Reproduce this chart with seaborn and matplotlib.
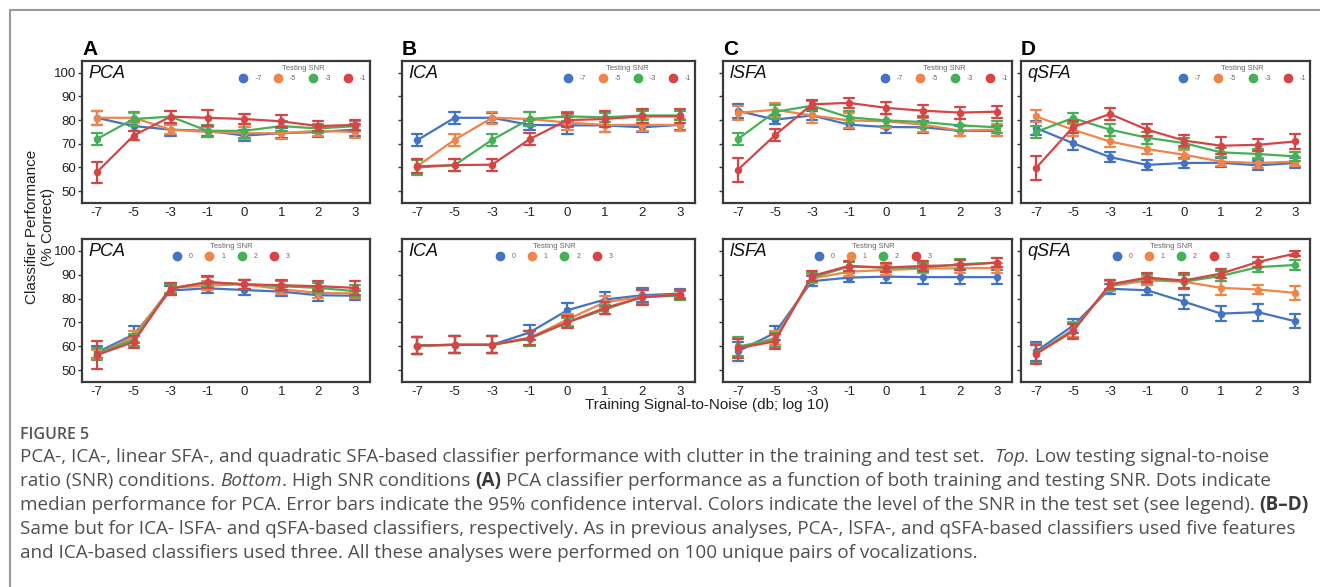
import matplotlib
matplotlib.use("Agg")
import matplotlib.pyplot as plt
from matplotlib.lines import Line2D
import numpy as np
import pandas as pd
import seaborn as sns

# ---------------- data ----------------
train_snr = ["-7", "-5", "-3", "-1", "0", "1", "2", "3"]
test_low = ["-7", "-5", "-3", "-1"]
test_high = ["0", "1", "2", "3"]
methods = ["PCA", "ICA", "lSFA", "qSFA"]
panel_letters = ["A", "B", "C", "D"]

# medians: one row per testing SNR (blue, orange, green, red)
pca_low = [[81, 77.5, 76, 75.5, 73.5, 74.5, 75, 76],
           [81, 81, 76, 75, 74.5, 74.5, 75.5, 75],
           [72, 80.5, 81.5, 75.5, 75.5, 77.5, 76.5, 77.5],
           [58, 73.5, 81.5, 81, 80.5, 79.5, 77.5, 78]]
pca_low_err = [[3, 2, 2.5, 2, 2.5, 2, 2, 2.5],
               [3, 2, 2, 2, 2.5, 2.5, 2, 2.5],
               [2.5, 3, 2.5, 2.5, 3, 2, 2, 2],
               [4.5, 2, 2.5, 3.5, 2, 2.5, 2, 2]]
ica_low = [[71.5, 81, 81, 78, 77.8, 77.8, 77, 78],
           [60.5, 71.7, 81, 80.5, 79, 78, 78, 78],
           [60, 61, 71.7, 80.5, 81.6, 81.2, 82, 82],
           [60.5, 61, 61.2, 72, 80, 80.5, 81.6, 81.6]]
ica_low_err = [[2.5, 2.5, 2, 2, 3.5, 3, 2, 2],
               [3, 2.5, 2.5, 3, 3, 3, 2.5, 2.5],
               [3, 2.5, 2.5, 3, 2, 2, 2, 2],
               [3, 2.5, 2.5, 2.5, 3, 3.5, 3, 3]]
lsfa_low = [[84, 80.2, 82, 78.1, 77.1, 77, 75.5, 75.5],
            [83.1, 84.4, 82, 79.9, 79.5, 78.1, 75.6, 76],
            [72, 83.5, 86.1, 81.2, 79.9, 79.2, 77.8, 77],
            [59, 73.6, 86.7, 87.3, 85.2, 84, 83.2, 83.6]]
lsfa_low_err = [[3, 2, 2, 2, 2.5, 2.5, 2, 2],
                [3, 3, 3, 3, 3, 3, 2.5, 2.5],
                [2.5, 3, 2, 2.5, 2.5, 2.5, 2.5, 2.5],
                [5, 2.5, 2, 2, 2.5, 2.5, 2.5, 2.5]]
qsfa_low = [[76.7, 70.3, 64.4, 61.1, 61.9, 62, 60.9, 61.9],
            [81.6, 76, 71, 67.8, 65.4, 62.5, 61.9, 62.5],
            [75, 80.9, 76, 72.6, 70.3, 66.4, 65.7, 64.7],
            [59.7, 77, 82.6, 76, 71.4, 69.2, 69.6, 71]]
qsfa_low_err = [[3, 3, 2, 2, 2, 2, 2, 2],
                [2.5, 2.5, 2.5, 2, 2, 2, 2, 2],
                [2.5, 2, 2.5, 2.5, 2, 2, 2, 2],
                [5, 2.5, 2.5, 2.5, 2.5, 3.5, 2.5, 3]]

pca_high = [[57.4, 64.9, 83.4, 84.3, 83.6, 82.9, 81.4, 81.2],
            [56.5, 64.1, 84.5, 85.5, 86, 83.9, 82.4, 82.2],
            [56.8, 62.8, 84.2, 86.9, 86, 85.2, 84.5, 83.1],
            [56.3, 61.8, 84.2, 86.9, 86, 85.6, 85.2, 84.5]]
pca_high_err = [[2.5, 3.5, 2, 2, 2, 2, 2.5, 2],
                [2, 2.5, 2, 2, 2, 2, 2, 2],
                [2.5, 2.5, 2, 2, 2, 2, 2, 2.5],
                [6, 2.5, 2.5, 2.5, 2, 2, 2, 3]]
ica_high = [[60.3, 60.6, 60.6, 65.8, 75.1, 79.6, 81.4, 82.1],
            [60.3, 60.6, 60.6, 63.5, 71.2, 78.5, 80.7, 81.7],
            [60.3, 60.6, 60.6, 63.2, 70, 75.4, 80.7, 81.2],
            [60.3, 60.6, 60.6, 63.5, 70, 76.1, 80.5, 81.7]]
ica_high_err = [[3.5, 3.5, 3.5, 3, 3, 3, 3, 2],
                [3.5, 3.5, 3.5, 3, 2.5, 2.5, 3, 2],
                [3.5, 3.5, 3.5, 3, 2, 2, 3, 2],
                [3.5, 3.5, 3.5, 3, 2.5, 2.5, 3, 2]]
lsfa_high = [[57.8, 65.6, 87.3, 88.8, 89.2, 89, 89, 89],
             [59.2, 63.5, 88.4, 91.3, 92, 92.6, 92.7, 92.9],
             [59.9, 62.7, 88.8, 93.4, 93, 93, 94.4, 95.1],
             [59.2, 62, 89.5, 93.7, 93, 93.7, 94, 95.1]]
lsfa_high_err = [[4, 3, 2, 2, 2.5, 3, 3, 3],
                 [4, 3, 2, 2, 2, 2, 2, 2],
                 [4, 3, 2, 2, 2, 2, 2, 2],
                 [4, 3, 2, 2, 2, 2, 2, 2]]
qsfa_high = [[57.8, 68.6, 84.1, 83.5, 78.7, 73.7, 74.3, 70.5],
             [56.8, 67, 85.2, 87.6, 87.1, 84.5, 83.8, 82.4],
             [57, 66.6, 85.6, 88.5, 87.1, 89.5, 93.2, 94.1],
             [56.7, 66.2, 86, 88.8, 87.6, 90.5, 95.4, 98.9]]
qsfa_high_err = [[4, 3, 2, 2, 3, 3, 3.5, 3],
                 [4, 3, 2, 2, 3, 3, 2, 3],
                 [4, 3, 2, 2, 3, 2, 2, 2],
                 [4, 3, 2, 2, 3, 2, 2, 1]]

low_sets = [(pca_low, pca_low_err), (ica_low, ica_low_err),
            (lsfa_low, lsfa_low_err), (qsfa_low, qsfa_low_err)]
high_sets = [(pca_high, pca_high_err), (ica_high, ica_high_err),
             (lsfa_high, lsfa_high_err), (qsfa_high, qsfa_high_err)]

colors = ["#4472C4", "#EE854A", "#45B055", "#D64545"]

y_ticks = [50, 60, 70, 80, 90, 100]

# ---------------- styling ----------------
sns.set_style("ticks")
chart_font = ["Liberation Sans", "DejaVu Sans"]
plt.rcParams["font.family"] = chart_font
cap_font = ["Open Sans", "DejaVu Sans"]

W, H = 1320, 587
fig = plt.figure(figsize=(W / 100, H / 100), dpi=100)

lefts = [82, 402, 723, 1021]
widths = [288, 293, 289, 289]
row_top = [61, 239]
row_h = [142, 143]


def long_table(med, err, tests):
    rows = []
    for t, m_row, e_row in zip(tests, med, err):
        for x, m, e in zip(train_snr, m_row, e_row):
            for v in (m - e, m, m + e):
                rows.append((x, t, v))
    return pd.DataFrame(rows, columns=["train", "test", "perf"])


for r, (sets, tests) in enumerate([(low_sets, test_low), (high_sets, test_high)]):
    for c in range(4):
        med, err = sets[c]
        df = long_table(med, err, tests)
        ax = fig.add_axes([lefts[c] / W, 1 - (row_top[r] + row_h[r]) / H,
                           widths[c] / W, row_h[r] / H])
        sns.pointplot(data=df, x="train", y="perf", hue="test",
                      order=train_snr, hue_order=tests, palette=colors,
                      estimator="median", errorbar=("pi", 100),
                      capsize=0.28, markersize=4.2, linewidth=1.6,
                      err_kws={"linewidth": 1.6}, legend=False, ax=ax)
        ax.set_xlim(-0.4, 7.4)
        ax.set_ylim(45, 105)
        ax.set_yticks(y_ticks)
        ax.set_xlabel("")
        ax.set_ylabel("")
        if c != 0:
            ax.set_yticklabels([])
        ax.tick_params(axis="y", length=3, width=1, color="#333333", pad=1,
                       labelsize=9.5, labelcolor="#222222")
        ax.tick_params(axis="x", length=0, pad=3, labelsize=9.5,
                       labelcolor="#222222")
        for sp in ax.spines.values():
            sp.set_linewidth(1.6)
            sp.set_color("#3a3a3a")
        ax.text(0.022, 0.975, methods[c], transform=ax.transAxes,
                ha="left", va="top", fontsize=13, style="italic",
                color="#111111")
        if r == 0:
            ax.text(0.0, 1.015, panel_letters[c], transform=ax.transAxes,
                    ha="left", va="bottom", fontsize=15, weight="bold",
                    color="#000000")
        handles = [Line2D([], [], marker="o", ls="", color=col, markersize=6)
                   for col in colors]
        if r == 0:
            loc, anchor = "upper right", (0.99, 0.985)
        else:
            loc, anchor = "upper center", (0.52, 0.985)
        leg = ax.legend(handles, tests, loc=loc, bbox_to_anchor=anchor,
                        ncol=4, frameon=False, fontsize=5, title="Testing SNR",
                        title_fontsize=5.5, handlelength=1.0,
                        handletextpad=1.2, columnspacing=1.9,
                        borderaxespad=0.1, borderpad=0.1)
        leg.get_title().set_color("#666666")
        for t in leg.get_texts():
            t.set_color("#666666")

fig.text(40 / W, 1 - 227 / H, "Classifier Performance\n(% Correct)",
         rotation=90, ha="center", va="center", multialignment="center",
         fontsize=11, color="#222222", linespacing=1.1)
fig.text(707 / W, 1 - 405 / H, "Training Signal-to-Noise (db; log 10)",
         ha="center", va="center", fontsize=11, color="#222222")

# ---------------- frame lines ----------------
fig.add_artist(Line2D([10 / W, 1.0], [1 - 10 / H, 1 - 10 / H],
                      transform=fig.transFigure, color="#9a9a9a", lw=1.5))
fig.add_artist(Line2D([10 / W, 10 / W], [1 - 10 / H, 0.0],
                      transform=fig.transFigure, color="#9a9a9a", lw=1.5))

# ---------------- caption ----------------
renderer = fig.canvas.get_renderer()
cap_color = "#505050"
cap_bold_color = "#3a3a3a"

caption_lines = [
    [("PCA-, ICA-, linear SFA-, and quadratic SFA-based classifier performance with clutter in the training and test set.  ", "r"),
     ("Top.", "i"), (" Low testing signal-to-noise", "r")],
    [("ratio (SNR) conditions. ", "r"), ("Bottom", "i"), (". High SNR conditions ", "r"),
     ("(A)", "b"), (" PCA classifier performance as a function of both training and testing SNR. Dots indicate", "r")],
    [("median performance for PCA. Error bars indicate the 95% confidence interval. Colors indicate the level of the SNR in the test set (see legend). ", "r"),
     ("(B\u2013D)", "b")],
    [("Same but for ICA- lSFA- and qSFA-based classifiers, respectively. As in previous analyses, PCA-, lSFA-, and qSFA-based classifiers used five features", "r")],
    [("and ICA-based classifiers used three. All these analyses were performed on 100 unique pairs of vocalizations.", "r")],
]


def text_width(s, size, **kw):
    t = fig.text(0, 0, s, fontsize=size, family=cap_font, **kw)
    w = t.get_window_extent(renderer).width
    t.remove()
    return w


def draw_line(pieces, x_px, y_px, size):
    space_w = text_width("a a", size) - text_width("aa", size)
    x = x_px
    for txt, style in pieces:
        kw = {"color": cap_color}
        if style == "i":
            kw["style"] = "italic"
        if style == "b":
            kw["weight"] = "bold"
            kw["color"] = cap_bold_color
        lead = len(txt) - len(txt.lstrip(" "))
        trail = len(txt) - len(txt.rstrip(" "))
        core = txt.strip(" ")
        x += lead * space_w
        t = fig.text(x / W, 1 - y_px / H, core, fontsize=size, family=cap_font,
                     ha="left", va="baseline", **kw)
        x += t.get_window_extent(renderer).width
        x += trail * space_w
    return x


base_size = 12
w4 = text_width(caption_lines[3][0][0], base_size)
cap_size = base_size * 1268 / w4

fig.text(20 / W, 1 - 439 / H, "FIGURE 5", fontsize=cap_size * 0.85,
         family=cap_font, weight="semibold", color="#555555",
         ha="left", va="baseline")
for i, pieces in enumerate(caption_lines):
    draw_line(pieces, 20, 462 + 24 * i, cap_size)

fig.savefig("out.png", dpi=100)
